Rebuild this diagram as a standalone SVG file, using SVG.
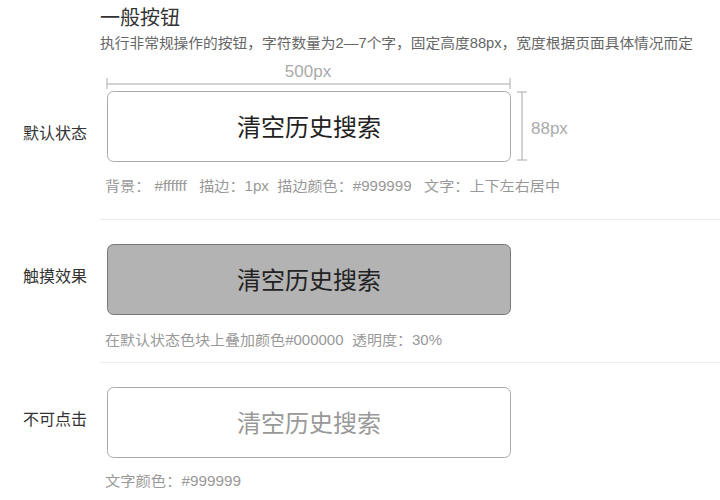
<svg xmlns="http://www.w3.org/2000/svg" width="720" height="500" viewBox="0 0 720 500">
<style>
.t{font-family:"Liberation Sans","Noto Sans CJK SC",sans-serif}
.lbl{font-size:16px;fill:#333}
.cap{font-size:14px;fill:#999;white-space:pre}
.btn{font-size:24px;text-anchor:middle}
.dim{stroke:#aaa;stroke-width:1;fill:none}
.div{stroke:#ececec;stroke-width:1}
</style>
<rect width="720" height="500" fill="#fff"/>
<text class="t" x="100" y="25" font-size="20" fill="#333">一般按钮</text>
<text class="t" x="100" y="48" font-size="14" fill="#666" textLength="593" lengthAdjust="spacingAndGlyphs">执行非常规操作的按钮，字符数量为2—7个字，固定高度88px，宽度根据页面具体情况而定</text>
<g id="dims">
<path class="dim" d="M107 84H510M107 78V89M510 78V89"/>
<text class="t" x="308" y="77" font-size="17" fill="#aaa" text-anchor="middle">500px</text>
<path class="dim" d="M522 92V160M517 92H527M517 160H527"/>
<text class="t" x="531" y="134" font-size="17" fill="#aaa">88px</text>
</g>
<g id="default">
<text class="t lbl" x="23" y="139">默认状态</text>
<rect x="107.5" y="91.5" width="403" height="70" rx="6" fill="#fff" stroke="#aaa"/>
<text class="t btn" x="309" y="136" fill="#222">清空历史搜索</text>
<text class="t cap" x="105" y="191" xml:space="preserve" textLength="455" lengthAdjust="spacingAndGlyphs">背景： #ffffff   描边：1px  描边颜色：#999999   文字：上下左右居中</text>
</g>
<line class="div" x1="100" y1="219.5" x2="720" y2="219.5"/>
<g id="touch">
<text class="t lbl" x="23" y="282">触摸效果</text>
<rect x="107.5" y="244.5" width="403" height="70" rx="6" fill="#b3b3b3" stroke="#777"/>
<text class="t btn" x="309" y="289" fill="#222">清空历史搜索</text>
<text class="t cap" x="105" y="345" xml:space="preserve" textLength="337" lengthAdjust="spacingAndGlyphs">在默认状态色块上叠加颜色#000000  透明度：30%</text>
</g>
<line class="div" x1="100" y1="362.5" x2="720" y2="362.5"/>
<g id="disabled">
<text class="t lbl" x="23" y="425">不可点击</text>
<rect x="107.5" y="387.5" width="403" height="70" rx="6" fill="#fff" stroke="#aaa"/>
<text class="t btn" x="309" y="432" fill="#999">清空历史搜索</text>
<text class="t cap" x="105" y="486" xml:space="preserve" textLength="136" lengthAdjust="spacingAndGlyphs">文字颜色：#999999</text>
</g>
</svg>
